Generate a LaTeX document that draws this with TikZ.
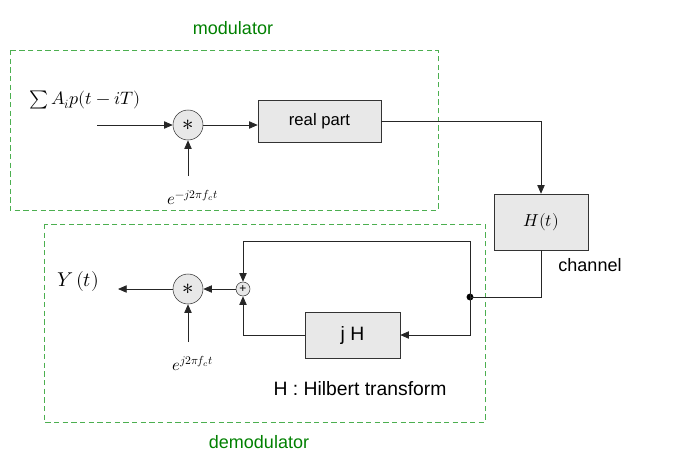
\documentclass[tikz,border=0pt]{standalone}
\usepackage{fontspec}
\setmainfont{Liberation Sans}
\usepackage{unicode-math}
\setmathfont{Latin Modern Math}
\usetikzlibrary{arrows.meta}
\definecolor{boxfill}{HTML}{E8E8E8}
\definecolor{dashgreen}{HTML}{4CAF50}
\definecolor{labgreen}{HTML}{008000}
\begin{document}
\begin{tikzpicture}[x=0.75pt,y=-0.75pt,
  blockbox/.style={draw=black!80,fill=boxfill,minimum width=#1*0.75pt,inner sep=0pt,font=\fontsize{12.5}{14}\selectfont},
  mult/.style={circle,draw=black!80,fill=boxfill,minimum size=22.5pt,inner sep=0pt,font=\fontsize{17}{18}\selectfont},
  addr/.style={circle,draw=black!80,fill=boxfill,minimum size=10.5pt,inner sep=0pt,font=\fontsize{9}{10}\selectfont},
  frame/.style={draw=dashgreen,dash pattern=on 4pt off 2.5pt,line width=0.7pt},
  grn/.style={text=labgreen,font=\fontsize{13.5}{15}\selectfont},
  conn/.style={draw=black!85,line width=0.6pt,-{Triangle[length=6.5pt,width=5.5pt]}},
  wire/.style={draw=black!85,line width=0.6pt},
  lab/.style={font=\fontsize{13.5}{15}\selectfont}]
\useasboundingbox (0,0) rectangle (675,472);
% frames
\draw[frame] (10,50) rectangle (438,210);
\draw[frame] (44,224) rectangle (485,422);
\node[grn] (modl) at (233,28) {modulator};
\node[grn] (demodl) at (259,442) {demodulator};
% modulator
\node[font=\fontsize{13.5}{15}\selectfont] (src) at (85,100) {$\sum A_i p(t-iT)$};
\coordinate (srcend) at (97,125);
\node[mult] (m1) at (188,125) {\raisebox{-0.35ex}{$\ast$}};
\node[font=\fontsize{12.5}{14}\selectfont] (c1) at (193,197) {$e^{-j2\pi f_c t}$};
\coordinate (c1top) at (188,176);
\node[blockbox=123,minimum height=31.5pt] (rp) at (319.5,121) {real part};
\node[blockbox=94,minimum height=42pt,font=\fontsize{13}{15}\selectfont] (ch) at (541,222) {$H(t)$};
\node[lab] (chl) at (590,265) {channel};
\draw[conn] (srcend) -- (m1);
\draw[conn] (c1top) -- (m1);
\draw[conn] (m1.east) -- (m1.east -| rp.west);
\draw[conn] (rp.east) -| (ch.north);
% demodulator
\coordinate (jn) at (470,297);
\fill (jn) circle (2.6pt);
\draw[wire] (ch.south) |- (jn);
\node[addr] (ad) at (243,289) {+};
\node[mult] (m2) at (188,289) {\raisebox{-0.35ex}{$\ast$}};
\node[blockbox=95,minimum height=34.5pt,font=\fontsize{14.5}{16}\selectfont] (jh) at (352.5,335) {j H};
\coordinate (tr) at (470,241);
\coordinate (tl) at (243,241);
\coordinate (bl) at (243,335);
\coordinate (br) at (470,335);
\draw[conn] (jn) -- (tr) -- (tl) -- (ad);
\draw[conn] (jn) -- (br) -- (jh);
\draw[conn] (jh) -- (bl) -- (ad);
\draw[conn] (ad) -- (m2);
\node[font=\fontsize{12.5}{14}\selectfont] (c2) at (193,363) {$e^{j2\pi f_c t}$};
\coordinate (c2top) at (188,342);
\draw[conn] (c2top) -- (m2);
\coordinate (yend) at (118,289);
\draw[conn] (m2) -- (yend);
\node[font=\fontsize{15}{17}\selectfont] (yl) at (78,281) {$Y\,(t)$};
\node[lab,font=\fontsize{14.5}{16}\selectfont] (hil) at (360,389) {H : Hilbert transform};
\end{tikzpicture}
\end{document}
